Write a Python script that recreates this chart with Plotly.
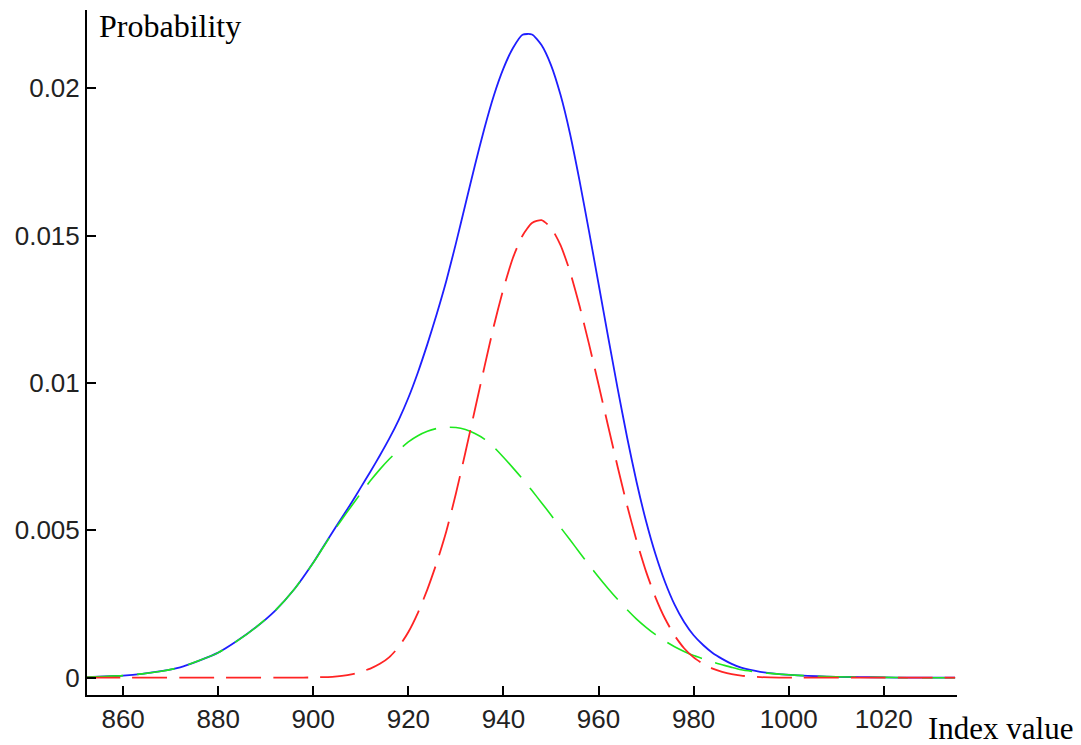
import plotly.graph_objects as go

# x positions (index value)
x_vals = [852, 856, 860, 864, 868, 872, 876, 880, 884, 888, 892, 896,
          900, 902, 904, 906, 908, 910, 912, 914, 916, 918, 920, 922, 924, 926, 928,
          930, 932, 934, 936, 938, 940, 942, 944, 946, 948, 950, 952, 954, 956, 958,
          960, 962, 964, 966, 968, 970, 972, 974, 976, 978, 980, 982, 984, 986, 988, 990,
          994, 998, 1002, 1006, 1010, 1015, 1020, 1025, 1030, 1035]

# total probability (solid blue)
total_prob = [0.00002, 0.00004, 0.00007, 0.00013, 0.00022, 0.00035, 0.00058, 0.00085,
              0.00125, 0.00172, 0.00228, 0.00300,
              0.00391, 0.00442, 0.00493, 0.00543, 0.00593, 0.00646, 0.00699, 0.00754,
              0.00812, 0.00876, 0.00950, 0.01036, 0.01132, 0.01236, 0.01348,
              0.01474, 0.01607, 0.01739, 0.01865, 0.01977, 0.02068, 0.02137, 0.02182,
              0.02183, 0.02147, 0.02079, 0.01978, 0.01846, 0.01687, 0.01515,
              0.01337, 0.01158, 0.00983, 0.00816, 0.00664, 0.00531, 0.00418, 0.00324,
              0.00248, 0.00189, 0.00144, 0.00111, 0.00084, 0.00064, 0.00047, 0.00034,
              0.00020, 0.00012, 0.00008, 0.00005, 0.00003, 0.00002, 0.00001, 0.0, 0.0, 0.0]

# first component (dashed green)
comp_green = [0.00002, 0.00004, 0.00007, 0.00013, 0.00022, 0.00035, 0.00058, 0.00085,
              0.00125, 0.00172, 0.00228, 0.00300,
              0.00390, 0.00440, 0.00490, 0.00537, 0.00582, 0.00626, 0.00668, 0.00707,
              0.00742, 0.00773, 0.00800, 0.00821, 0.00836, 0.00846, 0.00850,
              0.00849, 0.00842, 0.00829, 0.00810, 0.00782, 0.00748, 0.00712, 0.00675,
              0.00635, 0.00594, 0.00552, 0.00510, 0.00468, 0.00425, 0.00383,
              0.00342, 0.00303, 0.00266, 0.00231, 0.00199, 0.00171, 0.00146, 0.00124,
              0.00105, 0.00089, 0.00075, 0.00064, 0.00053, 0.00044, 0.00035, 0.00027,
              0.00018, 0.00012, 0.00008, 0.00005, 0.00003, 0.00002, 0.00001, 0.0, 0.0, 0.0]

# second component (dashed red)
comp_red = [0.0, 0.0, 0.0, 0.0, 0.0, 0.0, 0.0, 0.0, 0.0, 0.0, 0.0, 0.0,
            0.00001, 0.00002, 0.00003, 0.00006, 0.00011, 0.00020, 0.00031, 0.00047,
            0.00070, 0.00105, 0.00155, 0.00220, 0.00300, 0.00392, 0.00498,
            0.00625, 0.00765, 0.00910, 0.01055, 0.01195, 0.01320, 0.01425, 0.01500,
            0.01543, 0.01553, 0.01527, 0.01468, 0.01378, 0.01262, 0.01132,
            0.00995, 0.00855, 0.00717, 0.00585, 0.00465, 0.00360, 0.00272, 0.00200,
            0.00143, 0.00100, 0.00069, 0.00047, 0.00031, 0.00020, 0.00012, 0.00007,
            0.00002, 0.0, 0.0, 0.0, 0.0, 0.0, 0.0, 0.0, 0.0, 0.0]

x_ticks = [860, 880, 900, 920, 940, 960, 980, 1000, 1020]
y_ticks = [0, 0.005, 0.01, 0.015, 0.02]
y_tick_text = ["0", "0.005", "0.01", "0.015", "0.02"]

fig = go.Figure()
fig.add_trace(go.Scatter(x=x_vals, y=total_prob, mode="lines",
                         line=dict(color="#1e1eff", width=1.8, shape="spline", smoothing=0.6)))
fig.add_trace(go.Scatter(x=x_vals, y=comp_green, mode="lines",
                         line=dict(color="#1ee81e", width=1.6, dash="38px,14px",
                                   shape="spline", smoothing=0.6)))
fig.add_trace(go.Scatter(x=x_vals, y=comp_red, mode="lines",
                         line=dict(color="#ff2424", width=1.8, dash="35px,12px",
                                   shape="spline", smoothing=0.6)))

axis_font = dict(family="Liberation Sans, Arial, sans-serif", size=26, color="#222222")

fig.update_layout(
    width=1081, height=745,
    margin=dict(l=87, r=124, t=10, b=50, autoexpand=False),
    paper_bgcolor="white", plot_bgcolor="white",
    showlegend=False,
    xaxis=dict(range=[852.4, 1035.4], tickvals=x_ticks, ticks="inside", ticklen=9,
               tickwidth=2, tickcolor="black", showline=True, linecolor="black",
               linewidth=2, showgrid=False, zeroline=False, tickfont=axis_font),
    yaxis=dict(range=[-0.000587, 0.02266], tickvals=y_ticks, ticktext=y_tick_text,
               ticks="inside", ticklen=9, tickwidth=2, tickcolor="black",
               showline=True, linecolor="black", linewidth=2, showgrid=False,
               zeroline=False, tickfont=axis_font),
    annotations=[
        dict(text="Probability", xref="paper", yref="paper", x=0.0126, y=1.005,
             xanchor="left", yanchor="top", showarrow=False, borderpad=0,
             font=dict(family="Liberation Serif, Times New Roman, serif", size=32, color="black")),
        dict(text="Index value", xref="paper", yref="paper", x=1.1345, y=-0.0496,
             xanchor="right", yanchor="middle", showarrow=False, borderpad=0,
             font=dict(family="Liberation Serif, Times New Roman, serif", size=31, color="black")),
    ],
)

fig.write_html("out.html")
